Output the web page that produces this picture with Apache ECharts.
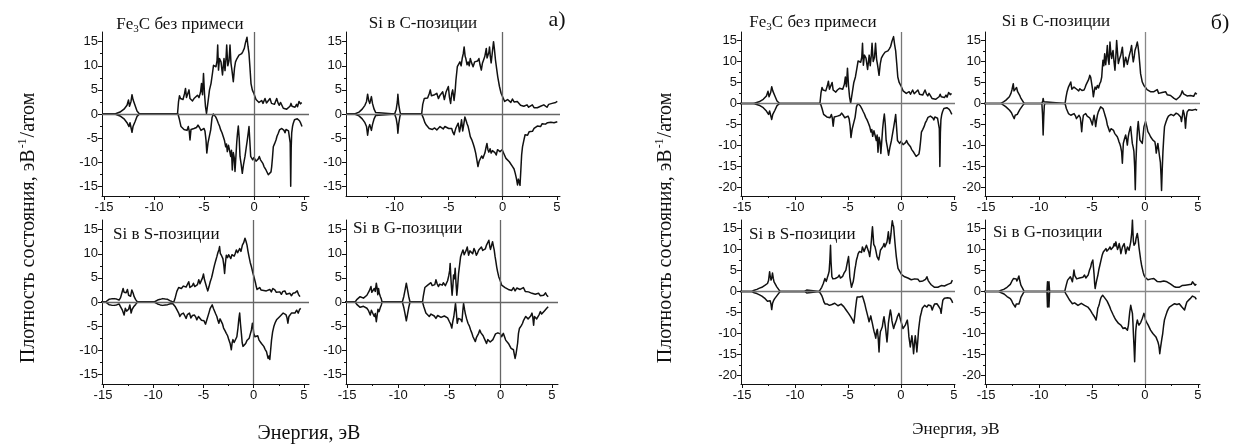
<!DOCTYPE html>
<html>
<head>
<meta charset="utf-8">
<script src="https://cdn.jsdelivr.net/npm/echarts@6/dist/echarts.min.js"></script>
<style>html,body{margin:0;padding:0;background:#fff}#c{width:1233px;height:445px}</style>
</head>
<body>
<div id="c"></div>
<script>
// ---------- tick values ----------
const xMajorTicks = [-15, -10, -5, 0, 5];
const xMinorTicks = [-12.5, -7.5, -2.5, 2.5];
const yMajorTicksA = [-15, -10, -5, 0, 5, 10, 15];
const yMinorTicksA = [-12.5, -7.5, -2.5, 2.5, 7.5, 12.5];
const yMajorTicksB = [-20, -15, -10, -5, 0, 5, 10, 15];
const yMinorTicksB = [-17.5, -12.5, -7.5, -2.5, 2.5, 7.5, 12.5];

// ---------- data: [energy eV, DOS] ----------
// а) Fe3C без примеси
const a_Fe3C_up = [[-15.2,0],[-13.9,0],[-13.4,0.4],[-13.0,1.0],[-12.7,1.8],[-12.55,2.9],[-12.45,1.6],[-12.3,2.6],[-12.2,4.0],[-12.1,3.0],[-11.9,1.8],[-11.7,0.6],[-11.45,0],[-7.65,0],[-7.55,2.5],[-7.45,3.8],[-7.35,3.2],[-7.25,3.6],[-7.1,3.0],[-6.95,4.2],[-6.85,5.3],[-6.75,3.4],[-6.65,3.0],[-6.5,5.0],[-6.4,3.2],[-6.3,3.6],[-6.15,2.7],[-6.0,3.2],[-5.9,2.9],[-5.8,3.6],[-5.65,3.9],[-5.5,3.4],[-5.35,4.5],[-5.25,6.3],[-5.15,4.0],[-5.05,8.4],[-4.95,4.2],[-4.85,1.5],[-4.75,0.1],[-4.6,2.5],[-4.45,5.0],[-4.3,6.3],[-4.15,8.5],[-4.05,10.1],[-3.9,10.5],[-3.8,9.8],[-3.7,11.0],[-3.63,14.3],[-3.55,9.1],[-3.45,11.5],[-3.3,10.8],[-3.15,8.1],[-3.0,11.5],[-2.9,9.0],[-2.8,11.5],[-2.73,14.3],[-2.62,10.0],[-2.5,11.0],[-2.4,14.3],[-2.3,10.5],[-2.2,9.0],[-2.07,6.7],[-1.95,9.5],[-1.85,10.8],[-1.7,11.5],[-1.5,12.2],[-1.35,11.8],[-1.23,12.5],[-1.1,13.0],[-0.97,13.6],[-0.85,14.8],[-0.7,15.9],[-0.6,14.0],[-0.5,12.5],[-0.4,9.5],[-0.3,6.3],[-0.17,5.0],[0.0,4.2],[0.1,3.6],[0.2,3.0],[0.33,2.8],[0.5,2.4],[0.65,2.6],[0.77,2.8],[0.9,2.2],[1.1,3.2],[1.25,2.3],[1.4,2.5],[1.6,3.2],[1.75,2.2],[1.9,2.4],[2.05,2.0],[2.27,3.2],[2.4,2.3],[2.53,1.8],[2.65,2.4],[2.77,2.8],[2.93,1.2],[3.1,0.9],[3.27,1.0],[3.45,1.4],[3.6,1.6],[3.7,2.2],[3.8,1.6],[3.93,1.5],[4.1,1.4],[4.25,2.0],[4.35,1.5],[4.5,2.6],[4.65,2.1],[4.77,2.4]];
const a_Fe3C_down = [[-15.2,0],[-13.9,0],[-13.4,-0.4],[-13.0,-1.0],[-12.7,-1.8],[-12.5,-2.6],[-12.4,-1.8],[-12.3,-2.8],[-12.2,-3.8],[-12.1,-2.6],[-11.9,-1.6],[-11.7,-0.5],[-11.45,0],[-7.6,0],[-7.45,-1.2],[-7.3,-2.6],[-7.15,-2.8],[-7.0,-3.2],[-6.85,-2.9],[-6.7,-3.4],[-6.57,-2.6],[-6.48,-3.5],[-6.4,-5.4],[-6.3,-3.2],[-6.15,-2.9],[-6.0,-3.0],[-5.9,-3.3],[-5.75,-2.8],[-5.6,-2.3],[-5.45,-2.8],[-5.3,-3.4],[-5.15,-3.3],[-5.0,-3.0],[-4.9,-3.6],[-4.8,-5.4],[-4.72,-8.1],[-4.6,-6.0],[-4.45,-4.5],[-4.33,-3.3],[-4.2,-0.8],[-4.07,0],[-3.95,-0.2],[-3.83,-0.6],[-3.7,-1.2],[-3.57,-1.9],[-3.45,-2.5],[-3.33,-3.3],[-3.2,-3.9],[-3.07,-4.7],[-2.95,-5.5],[-2.83,-6.8],[-2.75,-6.2],[-2.67,-7.8],[-2.55,-6.5],[-2.45,-7.5],[-2.33,-8.8],[-2.25,-7.5],[-2.17,-11.6],[-2.07,-8.0],[-1.98,-9.0],[-1.9,-11.9],[-1.8,-8.5],[-1.73,-6.0],[-1.65,-4.0],[-1.57,-2.5],[-1.48,-5.0],[-1.4,-8.8],[-1.28,-10.5],[-1.17,-12.3],[-1.05,-10.5],[-0.9,-8.8],[-0.78,-7.0],[-0.67,-5.4],[-0.55,-3.5],[-0.5,-2.6],[-0.42,-5.5],[-0.33,-8.8],[-0.22,-8.5],[-0.13,-9.5],[0.0,-9.0],[0.1,-8.8],[0.2,-9.8],[0.33,-10.2],[0.43,-9.3],[0.53,-8.8],[0.65,-9.5],[0.77,-9.8],[0.9,-10.3],[1.0,-10.9],[1.1,-11.0],[1.2,-11.6],[1.3,-12.0],[1.43,-12.6],[1.52,-12.2],[1.6,-13.0],[1.7,-12.0],[1.77,-10.9],[1.85,-9.0],[1.93,-6.8],[2.05,-6.2],[2.2,-5.4],[2.3,-4.6],[2.43,-4.0],[2.55,-3.3],[2.67,-3.6],[2.78,-3.0],[2.87,-2.6],[3.0,-3.4],[3.1,-3.9],[3.2,-3.2],[3.33,-3.0],[3.45,-3.5],[3.55,-3.3],[3.62,-6.0],[3.67,-15.0],[3.72,-7.0],[3.77,-3.9],[3.85,-2.6],[3.93,-1.9],[4.05,-1.2],[4.2,-0.9],[4.33,-1.0],[4.43,-1.2],[4.55,-1.4],[4.67,-1.9],[4.8,-2.6]];

// а) Si в C-позиции
const a_SiC_up = [[-14.5,0],[-13.7,0],[-13.3,0.4],[-13.0,1.0],[-12.75,1.8],[-12.6,2.6],[-12.5,4.1],[-12.4,2.8],[-12.3,2.2],[-12.15,3.6],[-12.05,2.2],[-11.9,1.0],[-11.75,0.3],[-11.6,0],[-10.0,0],[-9.85,1.0],[-9.75,2.5],[-9.7,4.1],[-9.62,2.0],[-9.52,0.6],[-9.45,0],[-7.5,0],[-7.4,2.0],[-7.26,3.2],[-7.1,3.6],[-6.95,3.3],[-6.8,4.2],[-6.7,5.0],[-6.6,3.8],[-6.45,3.6],[-6.3,4.0],[-6.1,4.3],[-5.95,3.2],[-5.8,3.9],[-5.65,4.2],[-5.55,4.6],[-5.4,3.0],[-5.25,4.5],[-5.1,4.8],[-5.03,5.7],[-4.93,3.5],[-4.82,2.2],[-4.72,4.2],[-4.63,5.0],[-4.5,2.8],[-4.4,4.8],[-4.33,7.0],[-4.2,9.8],[-4.1,10.2],[-3.96,10.8],[-3.85,10.0],[-3.75,11.5],[-3.65,12.5],[-3.57,13.9],[-3.48,12.0],[-3.41,11.5],[-3.3,10.2],[-3.2,10.8],[-3.1,10.0],[-3.0,11.5],[-2.88,10.6],[-2.74,9.8],[-2.6,10.8],[-2.44,10.5],[-2.32,11.0],[-2.2,11.5],[-2.1,10.2],[-1.98,9.1],[-1.88,10.5],[-1.77,11.2],[-1.65,12.0],[-1.52,13.6],[-1.45,11.6],[-1.37,11.2],[-1.28,12.8],[-1.22,13.9],[-1.15,12.0],[-1.07,10.6],[-0.95,13.0],[-0.85,15.0],[-0.77,13.5],[-0.67,11.2],[-0.57,9.5],[-0.46,7.7],[-0.3,5.7],[-0.15,4.3],[0.06,3.2],[0.18,2.6],[0.3,2.6],[0.45,3.0],[0.61,2.9],[0.75,2.4],[0.9,3.1],[1.05,2.5],[1.2,2.2],[1.35,2.6],[1.5,2.3],[1.65,1.8],[1.8,2.2],[1.95,1.6],[2.1,1.5],[2.25,1.9],[2.4,1.4],[2.55,1.8],[2.74,1.9],[2.9,1.3],[3.05,1.7],[3.2,1.3],[3.35,1.2],[3.5,1.6],[3.65,1.3],[3.8,1.9],[3.96,1.7],[4.1,1.4],[4.25,2.0],[4.4,1.6],[4.57,2.2],[4.75,2.0],[4.9,2.4],[5.05,2.6]];
const a_SiC_down = [[-14.5,0],[-13.7,0],[-13.3,-0.4],[-13.0,-1.0],[-12.75,-1.8],[-12.6,-2.6],[-12.5,-4.4],[-12.4,-2.8],[-12.3,-2.2],[-12.15,-3.4],[-12.05,-2.2],[-11.9,-1.0],[-11.75,-0.3],[-11.6,0],[-10.0,0],[-9.85,-1.0],[-9.75,-2.4],[-9.7,-4.0],[-9.62,-2.0],[-9.52,-0.6],[-9.45,0],[-7.5,0],[-7.35,-0.8],[-7.2,-1.8],[-7.07,-2.3],[-6.95,-2.6],[-6.8,-3.0],[-6.65,-2.8],[-6.5,-3.2],[-6.3,-2.9],[-6.1,-3.3],[-5.95,-3.0],[-5.8,-2.6],[-5.65,-2.9],[-5.5,-3.1],[-5.35,-2.6],[-5.18,-2.3],[-5.0,-3.0],[-4.85,-3.3],[-4.72,-3.0],[-4.63,-3.7],[-4.5,-4.3],[-4.42,-3.6],[-4.33,-2.9],[-4.2,-3.2],[-4.12,-1.9],[-4.0,-3.7],[-3.9,-2.6],[-3.81,-1.2],[-3.7,-3.5],[-3.62,-2.4],[-3.5,-0.6],[-3.4,-1.3],[-3.3,-2.0],[-3.2,-2.6],[-3.1,-3.6],[-3.0,-4.7],[-2.87,-5.3],[-2.74,-6.1],[-2.62,-7.0],[-2.5,-8.1],[-2.4,-9.4],[-2.29,-10.9],[-2.18,-9.8],[-2.07,-9.5],[-1.95,-8.7],[-1.83,-9.2],[-1.74,-8.6],[-1.65,-8.1],[-1.55,-7.0],[-1.46,-6.1],[-1.37,-7.4],[-1.28,-7.9],[-1.17,-7.2],[-1.07,-8.1],[-0.95,-7.6],[-0.85,-7.4],[-0.72,-8.0],[-0.6,-8.5],[-0.48,-7.4],[-0.37,-7.0],[-0.25,-7.8],[-0.15,-8.1],[-0.05,-7.4],[0.06,-7.8],[0.18,-8.6],[0.3,-9.2],[0.45,-9.4],[0.61,-9.9],[0.75,-10.2],[0.91,-10.9],[1.05,-11.4],[1.16,-12.3],[1.27,-13.4],[1.37,-14.7],[1.45,-13.5],[1.52,-13.7],[1.6,-14.8],[1.68,-11.5],[1.75,-8.5],[1.83,-6.8],[1.95,-5.5],[2.07,-4.3],[2.2,-4.0],[2.3,-4.4],[2.44,-3.7],[2.6,-3.4],[2.75,-3.6],[2.9,-3.0],[3.05,-2.8],[3.2,-2.5],[3.35,-2.3],[3.5,-2.6],[3.65,-2.0],[3.8,-2.3],[3.96,-2.1],[4.15,-1.8],[4.3,-2.2],[4.45,-1.7],[4.57,-1.9],[4.75,-1.8],[4.9,-1.5],[5.05,-1.6]];

// а) Si в S-позиции
const a_SiS_up = [[-15.2,0],[-14.75,0],[-14.6,0.4],[-14.4,0.55],[-14.15,0.65],[-13.9,0.7],[-13.65,0.6],[-13.4,0.4],[-13.25,0.9],[-13.13,1.8],[-13.0,2.8],[-12.9,2.0],[-12.8,2.4],[-12.7,1.9],[-12.57,2.6],[-12.45,1.4],[-12.35,1.6],[-12.25,1.2],[-12.13,2.5],[-12.0,1.8],[-11.9,1.1],[-11.75,0.5],[-11.57,0],[-9.9,0],[-9.75,0.25],[-9.57,0.4],[-9.3,0.55],[-9.07,0.7],[-8.8,0.6],[-8.57,0.55],[-8.35,0.3],[-8.15,0.1],[-7.95,0],[-7.8,1.0],[-7.65,2.2],[-7.47,3.0],[-7.35,2.6],[-7.2,2.8],[-7.0,3.3],[-6.85,2.9],[-6.73,3.1],[-6.6,2.7],[-6.47,4.2],[-6.35,3.0],[-6.22,2.7],[-6.1,3.4],[-6.0,3.9],[-5.87,3.2],[-5.73,2.8],[-5.6,3.6],[-5.47,4.6],[-5.35,3.8],[-5.23,3.9],[-5.1,5.0],[-5.0,5.8],[-4.9,4.6],[-4.8,3.9],[-4.68,3.0],[-4.57,2.3],[-4.45,3.2],[-4.33,4.2],[-4.2,5.0],[-4.13,5.6],[-4.0,6.8],[-3.9,7.7],[-3.78,8.6],[-3.67,9.4],[-3.57,10.2],[-3.47,10.8],[-3.4,11.5],[-3.33,10.1],[-3.2,9.6],[-3.07,9.0],[-2.97,7.5],[-2.9,5.9],[-2.82,8.0],[-2.73,9.7],[-2.6,9.2],[-2.5,9.8],[-2.4,9.4],[-2.28,9.0],[-2.17,9.8],[-2.07,10.1],[-1.95,9.5],[-1.85,10.0],[-1.73,10.8],[-1.6,10.2],[-1.5,10.6],[-1.4,11.1],[-1.27,10.5],[-1.13,11.8],[-1.0,12.3],[-0.87,13.2],[-0.77,12.6],[-0.67,11.8],[-0.57,10.5],[-0.47,9.4],[-0.35,8.2],[-0.23,7.3],[-0.07,5.9],[0.05,5.0],[0.17,4.0],[0.25,3.2],[0.33,2.6],[0.45,2.9],[0.6,3.0],[0.72,2.5],[0.85,2.9],[1.0,2.4],[1.1,2.8],[1.25,2.3],[1.4,2.7],[1.6,2.6],[1.75,2.1],[1.9,2.8],[2.1,2.5],[2.25,2.0],[2.4,2.4],[2.6,2.1],[2.75,1.6],[2.9,2.2],[3.1,2.3],[3.25,1.6],[3.4,2.0],[3.6,1.8],[3.75,1.3],[3.9,1.8],[4.1,1.9],[4.22,1.5],[4.33,2.3],[4.45,1.6],[4.6,1.1]];
const a_SiS_down = [[-15.2,0],[-14.75,0],[-14.6,-0.4],[-14.4,-0.55],[-14.15,-0.65],[-13.9,-0.7],[-13.65,-0.6],[-13.4,-0.4],[-13.25,-1.0],[-13.07,-1.7],[-12.9,-2.7],[-12.78,-1.3],[-12.65,-1.9],[-12.57,-2.0],[-12.45,-1.5],[-12.33,-0.6],[-12.2,-2.3],[-12.1,-1.5],[-11.95,-1.0],[-11.75,-0.5],[-11.57,0],[-9.9,0],[-9.75,-0.3],[-9.57,-0.4],[-9.3,-0.6],[-9.07,-0.7],[-8.8,-0.6],[-8.57,-0.55],[-8.3,-0.35],[-8.07,-0.3],[-7.95,-0.5],[-7.8,-1.0],[-7.65,-1.6],[-7.47,-2.3],[-7.35,-3.0],[-7.2,-2.5],[-7.0,-2.3],[-6.85,-2.9],[-6.73,-3.4],[-6.6,-2.6],[-6.4,-2.3],[-6.25,-3.3],[-6.1,-2.8],[-5.9,-2.7],[-5.75,-3.2],[-5.67,-3.7],[-5.5,-3.0],[-5.35,-3.3],[-5.2,-3.8],[-5.07,-4.1],[-4.95,-3.9],[-4.8,-4.6],[-4.68,-3.8],[-4.57,-3.4],[-4.45,-2.2],[-4.33,-1.3],[-4.2,-0.9],[-4.13,-0.6],[-4.0,-1.4],[-3.9,-1.6],[-3.78,-2.5],[-3.67,-3.0],[-3.57,-3.8],[-3.47,-4.4],[-3.35,-3.5],[-3.23,-3.4],[-3.1,-4.6],[-3.0,-5.4],[-2.85,-6.0],[-2.73,-6.5],[-2.6,-7.0],[-2.47,-7.9],[-2.35,-8.6],[-2.23,-9.9],[-2.15,-8.5],[-2.07,-7.8],[-1.95,-8.4],[-1.8,-8.6],[-1.68,-7.2],[-1.57,-5.4],[-1.48,-3.5],[-1.4,-2.3],[-1.32,-4.5],[-1.23,-6.5],[-1.15,-8.4],[-1.07,-9.2],[-0.95,-8.8],[-0.8,-8.6],[-0.68,-8.0],[-0.57,-7.9],[-0.45,-7.5],[-0.33,-7.2],[-0.23,-5.8],[-0.13,-4.4],[-0.05,-5.5],[0.0,-6.5],[0.12,-7.2],[0.27,-7.5],[0.4,-7.0],[0.53,-7.9],[0.65,-8.2],[0.77,-8.6],[0.9,-8.9],[1.0,-9.2],[1.13,-9.8],[1.27,-10.3],[1.35,-11.0],[1.43,-11.7],[1.52,-11.2],[1.6,-11.9],[1.68,-10.0],[1.77,-7.9],[1.88,-6.2],[2.0,-5.1],[2.13,-4.3],[2.27,-3.7],[2.43,-3.3],[2.6,-3.0],[2.75,-2.8],[2.93,-2.3],[3.07,-2.6],[3.2,-2.6],[3.3,-3.2],[3.4,-4.4],[3.5,-3.0],[3.6,-2.6],[3.75,-2.3],[3.93,-2.0],[4.1,-2.3],[4.27,-1.7],[4.35,-2.0],[4.43,-2.3],[4.55,-1.6],[4.67,-1.3]];

// а) Si в G-позиции
const a_SiG_up = [[-15.2,0],[-14.2,0],[-14.05,0.5],[-13.9,0.9],[-13.72,1.1],[-13.55,1.0],[-13.39,0.8],[-13.2,1.0],[-13.06,1.4],[-12.95,1.6],[-12.83,2.3],[-12.72,2.6],[-12.66,3.2],[-12.58,2.0],[-12.45,1.9],[-12.34,2.8],[-12.24,2.2],[-12.14,3.9],[-12.05,2.7],[-12.0,1.5],[-11.92,2.8],[-11.85,1.8],[-11.74,1.1],[-11.65,0.6],[-11.58,0],[-9.6,0],[-9.45,1.2],[-9.32,2.6],[-9.21,3.9],[-9.1,2.6],[-8.98,1.2],[-8.85,0],[-7.63,0],[-7.55,1.2],[-7.4,3.0],[-7.25,2.6],[-7.12,3.5],[-6.95,3.3],[-6.81,4.0],[-6.68,3.4],[-6.55,3.0],[-6.43,3.6],[-6.32,4.6],[-6.2,3.8],[-6.08,3.2],[-5.95,3.7],[-5.82,3.9],[-5.7,3.5],[-5.6,4.0],[-5.5,4.2],[-5.4,3.4],[-5.3,3.8],[-5.18,4.4],[-5.07,5.4],[-4.98,6.5],[-4.93,8.0],[-4.86,5.0],[-4.8,3.0],[-4.74,1.4],[-4.66,3.4],[-4.6,5.6],[-4.52,4.8],[-4.44,7.0],[-4.36,4.0],[-4.28,1.4],[-4.2,3.2],[-4.11,5.9],[-4.0,7.8],[-3.91,9.4],[-3.8,10.1],[-3.68,10.8],[-3.56,9.8],[-3.45,10.1],[-3.35,10.8],[-3.26,11.4],[-3.13,9.7],[-3.0,10.6],[-2.86,10.4],[-2.73,10.0],[-2.6,11.1],[-2.48,10.5],[-2.37,9.7],[-2.25,10.2],[-2.14,10.8],[-2.0,10.4],[-1.88,11.4],[-1.75,10.7],[-1.61,10.8],[-1.5,11.0],[-1.38,11.8],[-1.25,12.0],[-1.15,12.8],[-1.05,11.4],[-0.99,10.9],[-0.88,11.8],[-0.79,12.5],[-0.7,11.5],[-0.63,10.8],[-0.55,9.5],[-0.46,8.3],[-0.38,7.2],[-0.3,6.3],[-0.18,5.2],[-0.07,4.6],[0.1,3.5],[0.25,3.3],[0.43,3.0],[0.6,3.2],[0.75,2.6],[0.92,2.8],[1.08,2.4],[1.25,3.0],[1.41,2.3],[1.58,2.9],[1.74,3.2],[1.9,2.6],[2.07,2.5],[2.22,3.0],[2.4,2.2],[2.57,2.6],[2.72,2.1],[2.9,2.4],[3.06,1.8],[3.22,2.1],[3.38,1.6],[3.55,1.4],[3.7,1.8],[3.88,1.3],[4.05,1.1],[4.2,1.4],[4.38,1.9],[4.5,1.4],[4.64,1.1]];
const a_SiG_down = [[-15.2,0],[-14.2,0],[-14.05,-0.5],[-13.9,-0.9],[-13.72,-1.1],[-13.55,-1.0],[-13.39,-0.9],[-13.2,-1.1],[-13.06,-1.3],[-12.9,-1.8],[-12.73,-2.7],[-12.62,-1.7],[-12.5,-2.0],[-12.34,-3.0],[-12.24,-2.4],[-12.14,-4.1],[-12.05,-2.6],[-11.98,-1.5],[-11.88,-2.0],[-11.74,-1.1],[-11.65,-0.6],[-11.58,0],[-9.6,0],[-9.45,-1.2],[-9.32,-2.6],[-9.21,-3.9],[-9.1,-2.6],[-8.98,-1.2],[-8.85,0],[-7.63,0],[-7.5,-1.0],[-7.3,-2.3],[-7.15,-2.7],[-6.97,-3.0],[-6.8,-2.5],[-6.65,-2.3],[-6.48,-2.9],[-6.32,-3.4],[-6.15,-2.8],[-5.98,-2.6],[-5.82,-3.2],[-5.66,-3.4],[-5.5,-2.9],[-5.33,-2.7],[-5.18,-3.3],[-5.0,-4.1],[-4.88,-4.6],[-4.77,-5.4],[-4.67,-4.0],[-4.57,-3.0],[-4.48,-1.5],[-4.41,-0.3],[-4.33,-2.0],[-4.24,-4.4],[-4.12,-3.4],[-4.01,-3.0],[-3.9,-3.6],[-3.78,-4.1],[-3.7,-2.0],[-3.62,-0.3],[-3.53,-1.5],[-3.45,-2.4],[-3.32,-3.5],[-3.19,-4.4],[-3.05,-5.0],[-2.93,-5.8],[-2.8,-6.5],[-2.7,-7.2],[-2.58,-7.6],[-2.47,-8.2],[-2.37,-7.4],[-2.27,-7.2],[-2.15,-6.5],[-2.04,-5.8],[-1.92,-6.4],[-1.81,-6.5],[-1.71,-7.0],[-1.61,-7.5],[-1.5,-8.0],[-1.38,-8.6],[-1.26,-7.8],[-1.15,-7.9],[-1.02,-8.3],[-0.89,-8.6],[-0.76,-7.8],[-0.63,-7.2],[-0.5,-6.6],[-0.39,-6.9],[-0.27,-6.4],[-0.16,-6.1],[-0.03,-6.6],[0.1,-7.2],[0.26,-6.5],[0.38,-7.2],[0.49,-7.9],[0.62,-8.2],[0.76,-8.6],[0.9,-9.0],[1.02,-9.6],[1.15,-9.6],[1.25,-9.9],[1.33,-10.8],[1.41,-11.7],[1.5,-10.8],[1.58,-11.0],[1.66,-8.5],[1.74,-6.5],[1.83,-5.5],[1.91,-5.8],[2.02,-4.9],[2.14,-4.4],[2.24,-3.8],[2.34,-3.4],[2.45,-3.0],[2.57,-2.7],[2.68,-3.5],[2.8,-3.7],[2.93,-2.9],[3.06,-2.3],[3.14,-3.2],[3.22,-4.8],[3.3,-3.0],[3.39,-2.7],[3.52,-3.5],[3.65,-3.4],[3.76,-2.6],[3.88,-2.0],[4.0,-2.5],[4.11,-2.3],[4.25,-1.9],[4.38,-1.7],[4.5,-1.3],[4.64,-1.0]];

// б) Fe3C без примеси (same curves as in а)
const b_Fe3C_up = a_Fe3C_up;
const b_Fe3C_down = a_Fe3C_down;

// б) Si в C-позиции
const b_SiC_up = [[-15.2,0],[-13.6,0],[-13.35,0.4],[-13.12,0.8],[-12.95,1.2],[-12.8,1.6],[-12.65,2.4],[-12.56,3.2],[-12.48,3.6],[-12.43,4.7],[-12.36,3.0],[-12.28,3.4],[-12.2,2.9],[-12.12,3.8],[-12.02,2.8],[-11.93,2.4],[-11.8,1.8],[-11.7,1.2],[-11.55,0.6],[-11.4,0],[-9.73,0],[-9.65,0.6],[-9.61,1.2],[-9.55,0.4],[-9.45,0],[-7.54,0],[-7.45,1.5],[-7.35,2.8],[-7.22,3.9],[-7.1,3.6],[-7.0,5.1],[-6.9,3.4],[-6.8,3.2],[-6.7,3.9],[-6.62,4.3],[-6.5,3.5],[-6.37,3.2],[-6.25,3.0],[-6.15,3.5],[-6.06,3.6],[-5.95,3.1],[-5.85,3.3],[-5.75,3.2],[-5.65,3.8],[-5.55,4.5],[-5.43,4.7],[-5.3,5.8],[-5.21,6.7],[-5.12,6.2],[-5.02,5.9],[-4.95,3.5],[-4.87,1.6],[-4.79,2.8],[-4.71,3.9],[-4.6,3.4],[-4.49,4.3],[-4.38,3.7],[-4.27,4.7],[-4.17,5.2],[-4.08,6.3],[-4.02,8.5],[-3.96,10.3],[-3.88,9.0],[-3.8,11.8],[-3.7,9.2],[-3.62,11.5],[-3.55,13.8],[-3.47,10.5],[-3.39,9.3],[-3.3,14.6],[-3.22,12.0],[-3.14,10.7],[-3.07,12.0],[-3.01,12.6],[-2.92,10.0],[-2.83,7.9],[-2.75,11.0],[-2.67,15.0],[-2.6,12.5],[-2.51,9.5],[-2.4,10.6],[-2.29,11.4],[-2.2,12.5],[-2.13,13.4],[-2.05,11.0],[-1.98,8.7],[-1.9,10.0],[-1.82,11.0],[-1.74,10.2],[-1.66,9.3],[-1.55,10.6],[-1.44,11.8],[-1.35,12.6],[-1.26,13.8],[-1.18,11.5],[-1.1,9.9],[-1.02,11.0],[-0.94,12.6],[-0.83,13.5],[-0.72,14.6],[-0.65,13.6],[-0.57,11.8],[-0.49,9.5],[-0.41,7.1],[-0.25,5.1],[-0.1,4.3],[0.06,3.8],[0.2,3.3],[0.38,3.2],[0.52,2.8],[0.68,3.1],[0.85,2.8],[1.0,2.5],[1.16,3.3],[1.3,2.4],[1.48,2.0],[1.62,2.6],[1.78,2.2],[1.95,2.8],[2.1,2.1],[2.26,2.4],[2.42,1.9],[2.57,1.6],[2.75,1.2],[2.95,0.9],[3.1,1.2],[3.27,1.6],[3.4,2.1],[3.52,3.0],[3.65,2.3],[3.83,2.2],[3.98,1.8],[4.14,1.6],[4.3,1.9],[4.46,2.0],[4.6,1.7],[4.77,2.5],[4.9,2.2]];
const b_SiC_down = [[-15.2,0],[-13.6,0],[-13.35,-0.4],[-13.12,-0.8],[-12.95,-1.2],[-12.78,-1.6],[-12.6,-2.2],[-12.5,-2.8],[-12.42,-3.2],[-12.34,-3.6],[-12.25,-2.8],[-12.15,-2.4],[-12.05,-2.6],[-11.93,-2.0],[-11.8,-1.4],[-11.7,-1.0],[-11.55,-0.5],[-11.4,0],[-9.73,0],[-9.67,-2.5],[-9.61,-7.5],[-9.55,-3.0],[-9.5,-0.5],[-9.45,0],[-7.54,0],[-7.42,-1.2],[-7.22,-2.4],[-7.0,-2.8],[-6.85,-2.6],[-6.69,-2.4],[-6.55,-3.0],[-6.47,-3.6],[-6.35,-3.2],[-6.22,-2.8],[-6.1,-3.4],[-6.03,-5.0],[-5.97,-6.7],[-5.9,-4.5],[-5.81,-2.8],[-5.7,-3.0],[-5.59,-2.4],[-5.45,-3.0],[-5.34,-2.8],[-5.22,-3.4],[-5.12,-3.9],[-5.04,-4.3],[-4.96,-5.1],[-4.88,-3.8],[-4.8,-2.8],[-4.72,-4.0],[-4.65,-5.5],[-4.57,-4.0],[-4.49,-2.8],[-4.4,-2.0],[-4.33,-1.6],[-4.18,-0.8],[-4.07,-1.0],[-3.96,-1.2],[-3.86,-2.0],[-3.77,-2.8],[-3.65,-3.8],[-3.55,-5.1],[-3.45,-5.8],[-3.33,-6.7],[-3.2,-6.0],[-3.08,-5.8],[-2.96,-6.4],[-2.86,-7.1],[-2.74,-7.5],[-2.61,-7.9],[-2.52,-8.5],[-2.45,-9.1],[-2.37,-9.6],[-2.29,-10.3],[-2.2,-11.5],[-2.13,-14.2],[-2.04,-9.5],[-1.94,-8.5],[-1.82,-7.5],[-1.74,-8.5],[-1.66,-9.9],[-1.58,-8.0],[-1.51,-7.0],[-1.43,-6.2],[-1.35,-5.5],[-1.27,-7.5],[-1.19,-9.5],[-1.1,-10.5],[-1.04,-11.4],[-0.97,-15.0],[-0.91,-20.5],[-0.85,-14.0],[-0.78,-9.5],[-0.7,-6.0],[-0.63,-4.3],[-0.55,-6.5],[-0.47,-8.7],[-0.36,-9.0],[-0.25,-9.5],[-0.17,-7.5],[-0.09,-5.5],[0.06,-4.3],[0.18,-5.5],[0.28,-6.7],[0.4,-7.2],[0.53,-7.9],[0.65,-8.2],[0.75,-8.7],[0.85,-8.8],[0.94,-9.1],[1.0,-10.0],[1.07,-11.8],[1.15,-10.5],[1.22,-9.5],[1.3,-11.0],[1.38,-12.6],[1.46,-14.0],[1.52,-17.0],[1.57,-20.7],[1.63,-16.0],[1.7,-11.5],[1.78,-8.0],[1.85,-5.5],[1.97,-4.5],[2.1,-3.6],[2.22,-3.0],[2.35,-2.8],[2.46,-2.6],[2.57,-2.4],[2.7,-2.9],[2.83,-2.8],[2.95,-2.3],[3.05,-2.0],[3.16,-2.6],[3.27,-2.8],[3.37,-3.2],[3.45,-4.3],[3.53,-3.0],[3.61,-1.6],[3.7,-2.4],[3.77,-3.8],[3.83,-5.9],[3.9,-3.5],[3.99,-2.0],[4.15,-1.5],[4.3,-1.2],[4.45,-1.6],[4.61,-2.0],[4.77,-1.4],[4.93,-1.6]];

// б) Si в S-позиции
const b_SiS_up = [[-15.2,0],[-14.07,0],[-13.95,0.35],[-13.85,0.3],[-13.75,0.2],[-13.6,0.5],[-13.35,0.8],[-13.13,1.0],[-12.95,1.3],[-12.82,1.5],[-12.7,1.8],[-12.6,1.9],[-12.5,2.6],[-12.4,4.7],[-12.33,3.4],[-12.26,2.7],[-12.2,3.2],[-12.13,4.4],[-12.05,3.1],[-11.98,2.3],[-11.85,1.7],[-11.72,1.1],[-11.55,0.5],[-11.41,0],[-9.1,0],[-9.05,0.35],[-8.97,0.45],[-8.9,0.35],[-8.85,0],[-7.71,0],[-7.6,0.5],[-7.48,1.0],[-7.33,1.9],[-7.18,3.1],[-7.05,2.4],[-6.95,3.3],[-6.87,3.9],[-6.78,4.8],[-6.71,7.5],[-6.65,11.0],[-6.6,7.0],[-6.52,3.5],[-6.42,3.0],[-6.33,2.7],[-6.2,3.1],[-6.08,3.0],[-5.95,3.4],[-5.83,3.9],[-5.72,3.2],[-5.61,3.0],[-5.5,3.6],[-5.39,4.3],[-5.3,4.2],[-5.2,5.1],[-5.08,6.7],[-4.95,8.3],[-4.88,6.0],[-4.83,3.5],[-4.75,2.2],[-4.67,1.0],[-4.58,1.8],[-4.51,2.3],[-4.43,3.6],[-4.36,5.1],[-4.28,6.2],[-4.2,7.5],[-4.12,8.2],[-4.04,9.0],[-3.93,9.5],[-3.82,9.8],[-3.72,9.3],[-3.64,10.6],[-3.55,10.0],[-3.48,9.5],[-3.38,10.2],[-3.26,11.0],[-3.18,10.4],[-3.1,9.8],[-3.02,9.2],[-2.95,8.3],[-2.87,10.0],[-2.79,12.2],[-2.74,14.0],[-2.69,15.4],[-2.62,13.0],[-2.57,11.2],[-2.45,10.6],[-2.36,9.6],[-2.26,8.3],[-2.18,8.0],[-2.1,7.5],[-2.02,8.6],[-1.94,9.8],[-1.85,10.2],[-1.76,10.2],[-1.68,10.8],[-1.6,11.4],[-1.52,10.6],[-1.44,10.2],[-1.38,11.0],[-1.32,11.8],[-1.25,13.0],[-1.19,14.2],[-1.13,12.6],[-1.07,11.4],[-1.0,12.5],[-0.94,13.8],[-0.88,15.5],[-0.82,16.8],[-0.76,16.0],[-0.69,15.4],[-0.62,13.2],[-0.56,11.4],[-0.5,9.8],[-0.44,8.3],[-0.36,6.8],[-0.28,5.5],[-0.17,5.0],[-0.06,4.7],[0.06,4.0],[0.19,3.9],[0.35,3.5],[0.5,3.7],[0.65,3.2],[0.82,3.1],[0.97,2.8],[1.13,2.7],[1.3,3.0],[1.45,2.6],[1.6,2.9],[1.75,2.4],[1.92,2.7],[2.07,2.5],[2.2,2.2],[2.32,2.9],[2.45,3.5],[2.57,2.6],[2.7,2.1],[2.85,1.6],[3.0,1.3],[3.17,1.0],[3.32,1.2],[3.48,1.0],[3.64,1.1],[3.8,1.4],[3.95,1.1],[4.1,1.3],[4.26,1.6],[4.42,1.7],[4.58,1.4],[4.72,2.0],[4.85,2.7]];
const b_SiS_down = [[-15.2,0],[-14.07,0],[-13.95,-0.35],[-13.85,-0.3],[-13.75,-0.2],[-13.6,-0.5],[-13.35,-0.8],[-13.13,-1.1],[-12.95,-1.4],[-12.82,-1.7],[-12.68,-2.0],[-12.6,-2.3],[-12.51,-2.5],[-12.42,-1.9],[-12.35,-2.2],[-12.27,-3.0],[-12.2,-4.3],[-12.12,-2.8],[-12.03,-2.2],[-11.92,-1.7],[-11.8,-1.3],[-11.65,-0.8],[-11.52,-0.4],[-11.41,0],[-9.1,0],[-9.05,-0.35],[-8.97,-0.45],[-8.9,-0.35],[-8.85,0],[-7.71,0],[-7.6,-0.4],[-7.49,-0.9],[-7.38,-1.6],[-7.27,-2.5],[-7.15,-3.0],[-7.08,-3.3],[-6.95,-3.0],[-6.85,-2.8],[-6.75,-3.3],[-6.65,-3.7],[-6.52,-3.1],[-6.39,-3.3],[-6.25,-2.8],[-6.08,-2.9],[-5.95,-3.4],[-5.77,-3.6],[-5.65,-3.0],[-5.52,-3.3],[-5.4,-3.6],[-5.3,-4.0],[-5.18,-4.4],[-5.08,-4.8],[-4.95,-5.2],[-4.83,-5.6],[-4.72,-6.1],[-4.61,-6.5],[-4.52,-7.0],[-4.45,-7.5],[-4.37,-6.0],[-4.29,-4.0],[-4.2,-2.2],[-4.14,-1.3],[-4.05,-1.0],[-3.98,-0.9],[-3.9,-1.3],[-3.82,-1.5],[-3.73,-1.2],[-3.64,-1.1],[-3.55,-1.8],[-3.42,-2.9],[-3.32,-4.0],[-3.2,-5.2],[-3.1,-6.2],[-3.01,-7.2],[-2.93,-6.5],[-2.85,-5.8],[-2.77,-6.8],[-2.7,-7.6],[-2.62,-8.6],[-2.54,-9.5],[-2.46,-10.2],[-2.38,-11.1],[-2.3,-9.5],[-2.23,-9.0],[-2.15,-11.0],[-2.07,-14.4],[-2.0,-11.0],[-1.94,-9.5],[-1.85,-9.0],[-1.76,-8.4],[-1.68,-7.0],[-1.6,-6.0],[-1.52,-7.5],[-1.44,-9.0],[-1.38,-10.5],[-1.32,-12.0],[-1.25,-10.0],[-1.19,-7.6],[-1.1,-6.0],[-1.0,-4.4],[-0.92,-5.5],[-0.85,-7.0],[-0.77,-8.0],[-0.69,-8.8],[-0.6,-8.0],[-0.5,-7.6],[-0.42,-6.8],[-0.34,-6.0],[-0.27,-5.6],[-0.19,-5.2],[-0.11,-6.0],[-0.03,-6.8],[0.08,-7.8],[0.19,-8.8],[0.3,-8.5],[0.41,-8.0],[0.5,-7.4],[0.6,-6.8],[0.68,-8.5],[0.75,-10.8],[0.82,-12.0],[0.88,-13.2],[0.95,-12.0],[1.03,-10.5],[1.1,-12.0],[1.19,-14.8],[1.27,-12.5],[1.35,-10.5],[1.42,-12.0],[1.5,-14.4],[1.58,-12.0],[1.66,-9.2],[1.74,-7.5],[1.82,-6.0],[1.92,-5.0],[2.01,-4.0],[2.12,-3.6],[2.23,-3.3],[2.35,-3.5],[2.45,-3.7],[2.58,-3.2],[2.7,-2.9],[2.82,-3.4],[2.95,-4.4],[3.06,-3.6],[3.17,-3.0],[3.28,-3.2],[3.39,-2.9],[3.52,-3.4],[3.64,-3.5],[3.72,-4.2],[3.79,-5.2],[3.87,-3.5],[3.95,-2.1],[4.1,-1.6],[4.26,-1.4],[4.4,-1.5],[4.51,-1.3],[4.65,-1.6],[4.78,-2.1],[4.88,-2.7]];

// б) Si в G-позиции
const b_SiG_up = [[-15.2,0],[-13.8,0],[-13.72,0.3],[-13.64,0.45],[-13.56,0.3],[-13.45,0.35],[-13.33,0.5],[-13.17,0.8],[-13.02,1.0],[-12.85,1.3],[-12.71,1.7],[-12.62,2.1],[-12.55,2.5],[-12.48,2.4],[-12.4,3.1],[-12.32,3.0],[-12.24,3.5],[-12.16,3.0],[-12.09,2.5],[-12.0,3.0],[-11.9,3.7],[-11.82,2.6],[-11.71,1.5],[-11.6,1.0],[-11.5,0.5],[-11.4,0],[-9.25,0],[-9.2,2.3],[-9.16,0.3],[-9.1,0.3],[-9.06,2.3],[-9.0,0],[-7.57,0],[-7.5,0.8],[-7.41,1.7],[-7.3,2.7],[-7.18,3.0],[-7.04,3.5],[-6.95,3.0],[-6.85,2.3],[-6.78,3.5],[-6.7,5.1],[-6.62,3.8],[-6.54,3.5],[-6.44,3.0],[-6.32,2.7],[-6.18,3.2],[-6.01,3.1],[-5.86,3.4],[-5.7,3.9],[-5.58,3.2],[-5.48,3.1],[-5.36,3.9],[-5.23,5.1],[-5.12,5.8],[-5.05,6.7],[-4.97,7.0],[-4.92,7.5],[-4.85,5.5],[-4.8,4.0],[-4.75,2.0],[-4.7,0.7],[-4.62,1.8],[-4.55,2.7],[-4.45,3.8],[-4.36,5.1],[-4.25,6.3],[-4.14,7.5],[-4.04,8.6],[-3.93,9.4],[-3.8,9.8],[-3.68,10.2],[-3.6,9.6],[-3.52,9.4],[-3.41,10.1],[-3.3,10.6],[-3.2,10.0],[-3.12,9.8],[-3.0,10.6],[-2.9,11.4],[-2.82,10.8],[-2.74,11.8],[-2.66,10.8],[-2.59,10.0],[-2.5,10.6],[-2.43,11.4],[-2.35,10.4],[-2.27,9.0],[-2.2,9.8],[-2.12,10.6],[-2.04,10.8],[-1.96,11.4],[-1.88,10.2],[-1.81,9.0],[-1.73,9.8],[-1.65,10.6],[-1.57,10.2],[-1.5,9.8],[-1.42,10.8],[-1.34,11.8],[-1.25,13.8],[-1.21,15.5],[-1.18,17.0],[-1.14,14.5],[-1.09,12.0],[-1.03,11.0],[-0.97,10.6],[-0.9,11.5],[-0.84,12.6],[-0.78,13.2],[-0.72,13.8],[-0.64,12.5],[-0.56,10.5],[-0.48,9.0],[-0.4,7.5],[-0.32,6.3],[-0.25,5.5],[-0.17,4.6],[-0.09,3.9],[0.02,3.4],[0.12,3.1],[0.28,2.8],[0.44,2.7],[0.6,3.0],[0.72,2.6],[0.84,3.1],[1.0,2.7],[1.15,2.4],[1.31,2.5],[1.47,2.3],[1.62,2.7],[1.78,2.5],[1.93,2.1],[2.08,2.3],[2.24,1.9],[2.4,1.8],[2.55,1.5],[2.73,1.2],[2.93,1.0],[3.1,1.2],[3.22,1.0],[3.33,1.1],[3.5,1.4],[3.65,1.6],[3.8,1.5],[3.95,1.2],[4.1,1.6],[4.27,1.5],[4.38,1.7],[4.49,2.3],[4.6,1.9],[4.74,1.5],[4.85,1.8]];
const b_SiG_down = [[-15.2,0],[-13.8,0],[-13.72,-0.3],[-13.64,-0.45],[-13.56,-0.3],[-13.45,-0.4],[-13.3,-0.6],[-13.15,-0.9],[-13.02,-1.2],[-12.87,-1.4],[-12.71,-1.7],[-12.58,-2.2],[-12.46,-2.9],[-12.36,-3.2],[-12.24,-3.7],[-12.15,-3.0],[-12.07,-2.7],[-11.98,-2.8],[-11.9,-3.0],[-11.82,-2.4],[-11.71,-1.4],[-11.58,-0.8],[-11.48,-0.4],[-11.4,0],[-9.25,0],[-9.2,-3.7],[-9.16,-0.3],[-9.1,-0.3],[-9.06,-3.7],[-9.0,0],[-7.57,0],[-7.47,-0.5],[-7.35,-0.9],[-7.22,-1.6],[-7.1,-2.1],[-6.97,-2.5],[-6.85,-2.9],[-6.74,-3.1],[-6.64,-2.7],[-6.5,-3.0],[-6.32,-3.3],[-6.16,-3.0],[-6.01,-2.8],[-5.86,-3.2],[-5.7,-3.3],[-5.55,-3.6],[-5.39,-3.7],[-5.28,-4.0],[-5.17,-4.4],[-5.07,-4.8],[-4.98,-5.2],[-4.88,-5.6],[-4.77,-6.0],[-4.68,-6.4],[-4.61,-6.8],[-4.53,-5.5],[-4.45,-4.0],[-4.37,-3.5],[-4.3,-2.9],[-4.22,-2.0],[-4.14,-1.4],[-4.06,-1.1],[-3.99,-0.9],[-3.91,-1.1],[-3.83,-1.4],[-3.75,-1.5],[-3.68,-1.7],[-3.57,-2.3],[-3.46,-2.9],[-3.33,-3.6],[-3.21,-4.4],[-3.1,-5.0],[-2.99,-5.6],[-2.87,-6.2],[-2.74,-6.8],[-2.62,-7.2],[-2.49,-7.6],[-2.38,-7.8],[-2.27,-8.0],[-2.16,-8.4],[-2.06,-8.8],[-1.96,-8.5],[-1.87,-8.6],[-1.76,-9.0],[-1.65,-9.2],[-1.56,-8.0],[-1.5,-6.5],[-1.43,-4.8],[-1.34,-3.3],[-1.26,-4.3],[-1.18,-5.2],[-1.13,-7.5],[-1.09,-10.0],[-1.03,-13.0],[-0.97,-16.7],[-0.92,-13.0],[-0.87,-9.5],[-0.8,-7.8],[-0.72,-6.8],[-0.64,-7.5],[-0.56,-8.0],[-0.48,-7.6],[-0.4,-7.4],[-0.32,-7.0],[-0.25,-6.4],[-0.17,-5.8],[-0.09,-5.2],[0.0,-6.0],[0.06,-6.8],[0.18,-7.4],[0.31,-8.0],[0.42,-8.6],[0.53,-9.2],[0.64,-9.6],[0.75,-10.0],[0.85,-10.2],[0.93,-10.4],[1.04,-10.8],[1.15,-11.2],[1.23,-12.0],[1.31,-12.8],[1.36,-13.8],[1.4,-14.8],[1.46,-13.6],[1.53,-12.4],[1.6,-11.2],[1.68,-10.0],[1.76,-8.2],[1.84,-6.8],[1.96,-5.8],[2.09,-4.8],[2.2,-4.2],[2.31,-3.7],[2.43,-3.4],[2.55,-3.3],[2.68,-3.0],[2.8,-2.9],[2.92,-3.2],[3.02,-3.1],[3.13,-2.8],[3.24,-2.9],[3.37,-3.2],[3.49,-3.7],[3.62,-4.0],[3.74,-4.4],[3.85,-3.4],[3.96,-2.5],[4.1,-2.1],[4.27,-1.7],[4.38,-1.4],[4.49,-1.1],[4.62,-1.3],[4.74,-1.4],[4.85,-1.9]];

// ---------- layout ----------
const panels = [
  {grid:{left:102, top:32,  width:207, height:164}, x:[-15.2,5.5], y:[-17,17], ym:yMajorTicksA, yn:yMinorTicksA, up:a_Fe3C_up, down:a_Fe3C_down, zeroColor:'#666'},
  {grid:{left:346, top:32,  width:214, height:164}, x:[-14.5,5.3], y:[-17,17], ym:yMajorTicksA, yn:yMinorTicksA, up:a_SiC_up,  down:a_SiC_down,  zeroColor:'#666'},
  {grid:{left:102, top:220, width:207, height:164}, x:[-15.1,5.5], y:[-17,17], ym:yMajorTicksA, yn:yMinorTicksA, up:a_SiS_up,  down:a_SiS_down,  zeroColor:'#666'},
  {grid:{left:346, top:220, width:212, height:164}, x:[-15.1,5.6], y:[-17,17], ym:yMajorTicksA, yn:yMinorTicksA, up:a_SiG_up,  down:a_SiG_down,  zeroColor:'#666'},
  {grid:{left:741, top:32,  width:214, height:164}, x:[-15.1,5.1], y:[-22,17], ym:yMajorTicksB, yn:yMinorTicksB, up:b_Fe3C_up, down:b_Fe3C_down, zeroColor:'#777'},
  {grid:{left:985, top:32,  width:215, height:164}, x:[-15.1,5.2], y:[-22,17], ym:yMajorTicksB, yn:yMinorTicksB, up:b_SiC_up,  down:b_SiC_down,  zeroColor:'#888'},
  {grid:{left:741, top:220, width:214, height:164}, x:[-15.1,5.1], y:[-22,17], ym:yMajorTicksB, yn:yMinorTicksB, up:b_SiS_up,  down:b_SiS_down,  zeroColor:'#777'},
  {grid:{left:985, top:220, width:215, height:164}, x:[-15.1,5.2], y:[-22,17], ym:yMajorTicksB, yn:yMinorTicksB, up:b_SiG_up,  down:b_SiG_down,  zeroColor:'#888'}
];

const TICK_FONT = 'Liberation Sans';
const SERIF = 'Liberation Serif';
const inRange = (arr, r) => arr.filter(v => v >= r[0] && v <= r[1]);

function majorAxis(gi, range, ticks, isX) {
  return {
    type:'value', gridIndex:gi, min:range[0], max:range[1],
    position: isX ? 'bottom' : 'left',
    axisLine:{show:true, onZero:false, lineStyle:{color:'#111', width:1}},
    axisTick:{show:true, inside:false, length:4, customValues:ticks, lineStyle:{color:'#111', width:1}},
    axisLabel:{show:true, customValues:ticks, margin: isX ? 5 : 4, fontFamily:TICK_FONT, fontSize:13, color:'#111',
               formatter: v => String(v)},
    splitLine:{show:false}, minorTick:{show:false}
  };
}
function minorAxis(gi, range, ticks, isX) {
  return {
    type:'value', gridIndex:gi, min:range[0], max:range[1],
    position: isX ? 'bottom' : 'left',
    axisLine:{show:false, onZero:false},
    axisTick:{show:true, inside:false, length:2, customValues:ticks, lineStyle:{color:'#111', width:1}},
    axisLabel:{show:false}, splitLine:{show:false}
  };
}

const option = {animation:false, backgroundColor:'#fff', grid:[], xAxis:[], yAxis:[], series:[], graphic:[]};
panels.forEach((p, i) => {
  option.grid.push(Object.assign({containLabel:false}, p.grid));
  option.xAxis.push(majorAxis(i, p.x, inRange(xMajorTicks, p.x), true), minorAxis(i, p.x, inRange(xMinorTicks, p.x), true));
  option.yAxis.push(majorAxis(i, p.y, inRange(p.ym, p.y), false), minorAxis(i, p.y, inRange(p.yn, p.y), false));
  const ai = 2 * i;
  option.series.push({
    type:'line', xAxisIndex:ai, yAxisIndex:ai, data:[], z:1, silent:true,
    markLine:{silent:true, symbol:['none','none'], label:{show:false}, animation:false,
      lineStyle:{color:p.zeroColor, width:1.3, type:'solid'},
      emphasis:{disabled:true},
      data:[{yAxis:0}, {xAxis:0}]}
  });
  [p.up, p.down].forEach(d => option.series.push({
    type:'line', xAxisIndex:ai, yAxisIndex:ai, data:d, z:3, silent:true,
    symbol:'none', showSymbol:false, clip:true,
    lineStyle:{color:'#111', width:1.5, join:'round'}
  }));
});

function txt(x, y, text, rich, opts) {
  return Object.assign({
    type:'text', x:x, y:y, silent:true,
    style:{text:text, rich:rich, fill:'#111', textAlign:'center', textVerticalAlign:'middle', align:'center', verticalAlign:'middle'}
  }, opts || {});
}
const richTitle = {
  n:{fontFamily:SERIF, fontSize:17, fill:'#111', color:'#111'},
  s:{fontFamily:SERIF, fontSize:11, fill:'#111', color:'#111', padding:[9,0,0,0]}
};
const richY = {
  n:{fontFamily:SERIF, fontSize:20, fill:'#111', color:'#111'},
  u:{fontFamily:SERIF, fontSize:12, fill:'#111', color:'#111', padding:[0,1,12,1]}
};
const richX = (fs) => ({n:{fontFamily:SERIF, fontSize:fs, fill:'#111', color:'#111'}});
const richL = {n:{fontFamily:SERIF, fontSize:22, fill:'#111', color:'#111'}};

const leftAlign = (g) => { g.style.textAlign = 'left'; g.style.align = 'left'; return g; };

option.graphic = [
  txt(180, 25, '{n|Fe}{s|3}{n|C без примеси}', richTitle),
  txt(423, 24, '{n|Si в C-позиции}', richTitle),
  leftAlign(txt(113, 235, '{n|Si в S-позиции}', richTitle)),
  leftAlign(txt(353, 229, '{n|Si в G-позиции}', richTitle)),
  txt(813, 23, '{n|Fe}{s|3}{n|C без примеси}', richTitle),
  txt(1056, 22, '{n|Si в C-позиции}', richTitle),
  leftAlign(txt(749, 235, '{n|Si в S-позиции}', richTitle)),
  leftAlign(txt(993, 233, '{n|Si в G-позиции}', richTitle)),
  txt(557, 20, '{n|а)}', richL),
  txt(1220, 23, '{n|б)}', richL),
  txt(29, 228, '{n|Плотность состояния, эВ}{u|-1}{n|/атом}', richY, {rotation:Math.PI/2}),
  txt(666, 228, '{n|Плотность состояния, эВ}{u|-1}{n|/атом}', richY, {rotation:Math.PI/2}),
  txt(309, 434, '{n|Энергия, эВ}', richX(20)),
  txt(956, 430, '{n|Энергия, эВ}', richX(17))
];

const chart = echarts.init(document.getElementById('c'), null, {renderer:'canvas'});
chart.setOption(option);
</script>
</body>
</html>
